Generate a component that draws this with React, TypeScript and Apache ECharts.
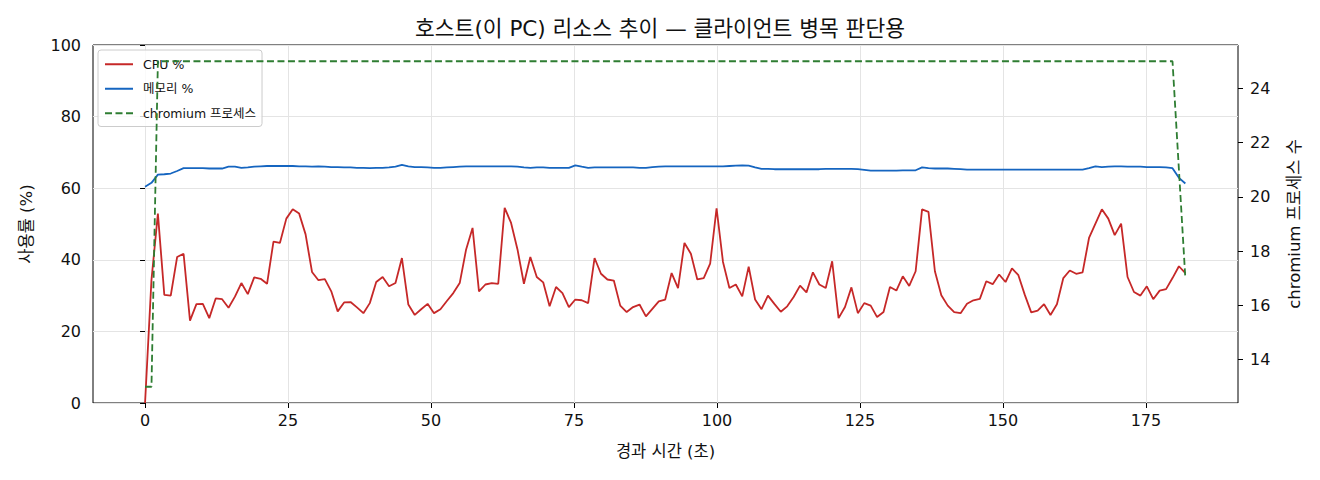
import React, { useEffect, useRef } from "react";
import * as echarts from "echarts";

// ---- data ----
const SAMPLE_INTERVAL_S = 1.1228;

const CPU = [
  0, 34.4, 52.9, 30.2, 30.0, 40.8, 41.7, 23.0, 27.6, 27.7,
  23.7, 29.2, 29.0, 26.6, 29.7, 33.5, 30.4, 35.1, 34.7, 33.3,
  45.1, 44.7, 51.5, 54.1, 52.9, 47.1, 36.6, 34.3, 34.6, 31.2,
  25.6, 28.1, 28.2, 26.7, 25.1, 27.9, 33.8, 35.2, 32.6, 33.5,
  40.5, 27.5, 24.6, 26.2, 27.7, 25.1, 26.2, 28.5, 30.7, 33.5,
  42.9, 48.9, 31.2, 33.1, 33.5, 33.3, 54.5, 50.3, 42.9, 33.3,
  40.8, 35.2, 33.7, 27.0, 32.4, 30.7, 26.8, 28.9, 28.7, 27.9,
  40.5, 36.1, 34.5, 34.2, 27.2, 25.4, 26.8, 27.5, 24.2, 26.3,
  28.4, 28.9, 36.3, 32.1, 44.7, 41.7, 34.5, 34.9, 38.9, 54.4,
  39.4, 32.1, 33.1, 29.8, 38.1, 28.9, 26.2, 30.0, 27.7, 25.5,
  27.0, 29.6, 32.8, 30.9, 36.5, 33.1, 32.1, 39.6, 23.7, 26.8,
  32.3, 25.1, 27.9, 27.2, 24.0, 25.4, 32.4, 31.4, 35.4, 32.7,
  36.8, 54.1, 53.4, 36.8, 30.1, 27.2, 25.4, 25.1, 27.7, 28.7,
  29.1, 34.0, 33.2, 35.9, 33.8, 37.6, 35.7, 30.2, 25.3, 25.8,
  27.6, 24.6, 27.6, 34.9, 37.0, 36.1, 36.5, 46.1, 50.1, 54.1,
  51.5, 46.9, 50.1, 35.2, 31.0, 30.0, 32.6, 29.0, 31.4, 31.8,
  34.9, 38.2, 36.3,
];

const MEMORY = [
  60.4, 61.5, 63.8, 63.9, 64.1, 64.8, 65.6, 65.6, 65.6, 65.6,
  65.5, 65.5, 65.5, 66.0, 66.0, 65.7, 65.8, 66.0, 66.1, 66.2,
  66.2, 66.2, 66.2, 66.2, 66.1, 66.1, 66.0, 66.1, 66.0, 65.9,
  65.9, 65.8, 65.8, 65.7, 65.7, 65.6, 65.7, 65.7, 65.8, 66.0,
  66.5, 66.1, 65.9, 65.9, 65.8, 65.7, 65.7, 65.8, 65.9, 66.0,
  66.1, 66.1, 66.1, 66.1, 66.1, 66.1, 66.1, 66.1, 66.0, 65.8,
  65.7, 65.8, 65.8, 65.7, 65.7, 65.7, 65.7, 66.4, 66.0, 65.7,
  65.8, 65.8, 65.8, 65.8, 65.8, 65.8, 65.8, 65.7, 65.7, 65.9,
  66.0, 66.1, 66.1, 66.1, 66.1, 66.1, 66.1, 66.1, 66.1, 66.1,
  66.1, 66.2, 66.3, 66.4, 66.3, 65.8, 65.4, 65.4, 65.3, 65.3,
  65.3, 65.3, 65.3, 65.3, 65.3, 65.3, 65.4, 65.4, 65.4, 65.4,
  65.4, 65.3, 65.1, 64.9, 64.9, 64.9, 64.9, 64.9, 65.0, 65.0,
  65.0, 65.8, 65.6, 65.5, 65.5, 65.5, 65.4, 65.3, 65.2, 65.2,
  65.2, 65.2, 65.2, 65.2, 65.2, 65.2, 65.2, 65.2, 65.2, 65.2,
  65.2, 65.2, 65.2, 65.2, 65.2, 65.2, 65.2, 65.6, 66.1, 65.9,
  66.0, 66.1, 66.1, 66.0, 66.0, 66.0, 65.9, 65.9, 65.9, 65.8,
  65.6, 62.9, 61.3,
];

const PROCESSES = [
  13, 13, 25, 25, 25, 25, 25, 25, 25, 25,
  25, 25, 25, 25, 25, 25, 25, 25, 25, 25,
  25, 25, 25, 25, 25, 25, 25, 25, 25, 25,
  25, 25, 25, 25, 25, 25, 25, 25, 25, 25,
  25, 25, 25, 25, 25, 25, 25, 25, 25, 25,
  25, 25, 25, 25, 25, 25, 25, 25, 25, 25,
  25, 25, 25, 25, 25, 25, 25, 25, 25, 25,
  25, 25, 25, 25, 25, 25, 25, 25, 25, 25,
  25, 25, 25, 25, 25, 25, 25, 25, 25, 25,
  25, 25, 25, 25, 25, 25, 25, 25, 25, 25,
  25, 25, 25, 25, 25, 25, 25, 25, 25, 25,
  25, 25, 25, 25, 25, 25, 25, 25, 25, 25,
  25, 25, 25, 25, 25, 25, 25, 25, 25, 25,
  25, 25, 25, 25, 25, 25, 25, 25, 25, 25,
  25, 25, 25, 25, 25, 25, 25, 25, 25, 25,
  25, 25, 25, 25, 25, 25, 25, 25, 25, 25,
  25, 21, 17,
];

const X_TICKS = [0, 25, 50, 75, 100, 125, 150, 175];
const Y2_TICKS = [14, 16, 18, 20, 22, 24];

const TITLE = "호스트(이 PC) 리소스 추이 — 클라이언트 병목 판단용";
const X_NAME = "경과 시간 (초)";
const Y_NAME = "사용률 (%)";
const Y2_NAME = "chromium 프로세스 수";
const LEGEND_NAMES = ["CPU %", "메모리 %", "chromium 프로세스"];

const TIMES = CPU.map((_, i) => +(i * SAMPLE_INTERVAL_S).toFixed(3));

const FONT = "'DejaVu Sans', 'Noto Sans CJK KR', sans-serif";

export default function App() {
  const ref = useRef<HTMLDivElement>(null);

  useEffect(() => {
    document.body.style.margin = "0";
    if (!ref.current) return;
    const chart = echarts.init(ref.current, undefined, { renderer: "svg" });
    const pair = (arr: number[]) => arr.map((v, i) => [TIMES[i], v]);
    const tickLabel = { color: "#111", fontSize: 16, fontFamily: FONT };
    const nameStyle = { color: "#111", fontSize: 16.5, fontFamily: FONT };

    chart.setOption({
      animation: false,
      backgroundColor: "#fff",
      title: {
        text: TITLE,
        left: "center",
        top: 13,
        textStyle: { color: "#111", fontSize: 21.5, fontWeight: "normal", fontFamily: FONT },
      },
      grid: {
        left: 93,
        right: 82,
        top: 45,
        bottom: 77,
        show: true,
        borderColor: "#000",
        borderWidth: 1,
        backgroundColor: "transparent",
      },
      legend: {
        orient: "vertical",
        left: 98,
        top: 50,
        padding: [8, 6, 7, 6],
        itemWidth: 28,
        itemHeight: 14,
        itemGap: 12,
        backgroundColor: "rgba(255,255,255,0.8)",
        borderColor: "#cccccc",
        borderWidth: 1,
        borderRadius: 3,
        itemStyle: { opacity: 0 },
        textStyle: { color: "#111", fontSize: 12.5, fontFamily: FONT, padding: [0, 0, 0, 5] },
        data: LEGEND_NAMES,
      },
      xAxis: {
        type: "value",
        min: -9.1,
        max: 191.1,
        name: X_NAME,
        nameLocation: "middle",
        nameGap: 40,
        nameTextStyle: nameStyle,
        axisLine: { show: false },
        axisTick: { show: true, length: 5, lineStyle: { color: "#000" }, customValues: X_TICKS },
        axisLabel: { ...tickLabel, margin: 9, customValues: X_TICKS },
        splitLine: { show: true, lineStyle: { color: "#e4e4e4", width: 1 } },
      },
      yAxis: [
        {
          type: "value",
          min: 0,
          max: 100,
          interval: 20,
          name: Y_NAME,
          nameLocation: "middle",
          nameGap: 58,
          nameRotate: 90,
          nameTextStyle: nameStyle,
          axisLine: { show: false },
          axisTick: { show: true, length: 5, lineStyle: { color: "#000" } },
          axisLabel: { ...tickLabel, margin: 12 },
          splitLine: { show: true, lineStyle: { color: "#e4e4e4", width: 1 } },
        },
        {
          type: "value",
          position: "right",
          min: 12.4,
          max: 25.6,
          name: Y2_NAME,
          nameLocation: "middle",
          nameGap: 48,
          nameRotate: 90,
          nameTextStyle: nameStyle,
          axisLine: { show: false },
          axisTick: { show: true, length: 5, lineStyle: { color: "#000" }, customValues: Y2_TICKS },
          axisLabel: { ...tickLabel, margin: 12, customValues: Y2_TICKS },
          splitLine: { show: false },
        },
      ],
      series: [
        {
          name: LEGEND_NAMES[0],
          type: "line",
          data: pair(CPU),
          showSymbol: false,
          symbol: "none",
          lineStyle: { color: "#c62828", width: 1.8 },
          itemStyle: { color: "#c62828" },
          z: 2,
        },
        {
          name: LEGEND_NAMES[1],
          type: "line",
          data: pair(MEMORY),
          showSymbol: false,
          symbol: "none",
          lineStyle: { color: "#1565c0", width: 1.8 },
          itemStyle: { color: "#1565c0" },
          z: 3,
        },
        {
          name: LEGEND_NAMES[2],
          type: "line",
          yAxisIndex: 1,
          data: pair(PROCESSES),
          showSymbol: false,
          symbol: "none",
          lineStyle: { color: "#2e7d32", width: 1.8, type: [7, 3.5] },
          itemStyle: { color: "#2e7d32" },
          z: 10,
        },
      ],
    });
    return () => chart.dispose();
  }, []);

  return (
    <div
      ref={ref}
      style={{ position: "absolute", left: 0, top: 0, width: 1320, height: 480 }}
    />
  );
}
